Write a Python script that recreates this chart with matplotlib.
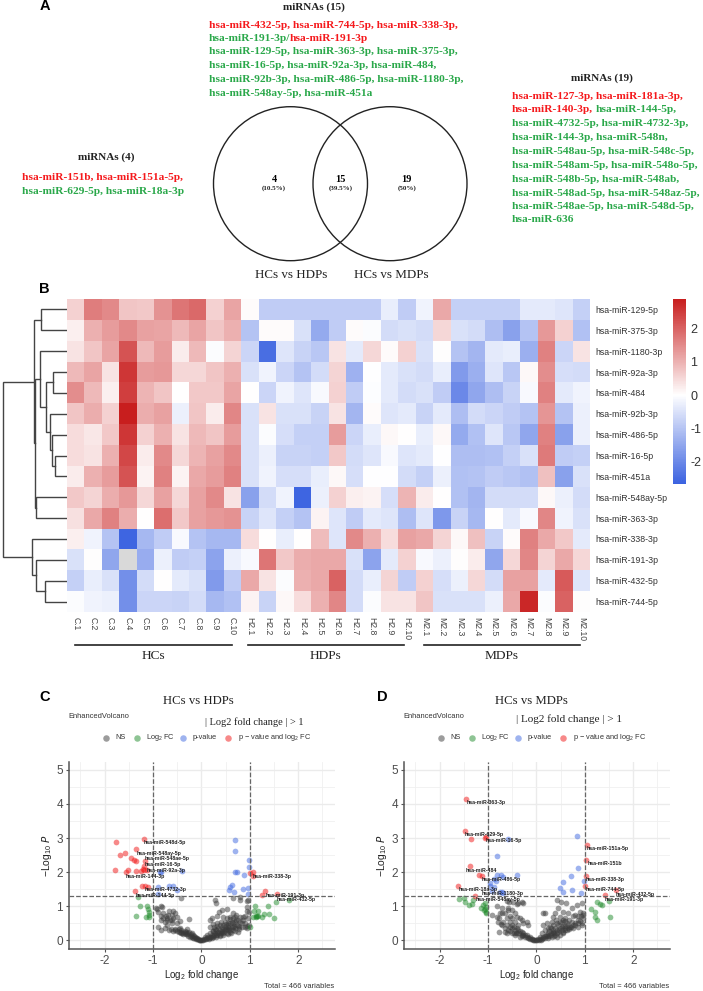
import numpy as np
import matplotlib
matplotlib.use("Agg")
import matplotlib.pyplot as plt
from matplotlib.colors import LinearSegmentedColormap, Normalize
from matplotlib.patches import Circle

plt.rcParams['font.family'] = ['Liberation Sans', 'DejaVu Sans']
plt.rcParams['mathtext.default'] = 'regular'

W, H = 703, 991
RED = '#f5191c'
GREEN = '#2aa84a'

# Panel A
block_15 = [
    [("hsa-miR-432-5p, hsa-miR-744-5p, hsa-miR-338-3p,", RED)],
    [("hsa-miR-191-3p/", GREEN), ("hsa-miR-191-3p", RED)],
    [("hsa-miR-129-5p, hsa-miR-363-3p, hsa-miR-375-3p,", GREEN)],
    [("hsa-miR-16-5p, hsa-miR-92a-3p, hsa-miR-484,", GREEN)],
    [("hsa-miR-92b-3p, hsa-miR-486-5p, hsa-miR-1180-3p,", GREEN)],
    [("hsa-miR-548ay-5p, hsa-miR-451a", GREEN)],
]
block_4 = [
    [("hsa-miR-151b, hsa-miR-151a-5p,", RED)],
    [("hsa-miR-629-5p, hsa-miR-18a-3p", GREEN)],
]
block_19 = [
    [("hsa-miR-127-3p, hsa-miR-181a-3p,", RED)],
    [("hsa-miR-140-3p,", RED), (" hsa-miR-144-5p,", GREEN)],
    [("hsa-miR-4732-5p, hsa-miR-4732-3p,", GREEN)],
    [("hsa-miR-144-3p, hsa-miR-548n,", GREEN)],
    [("hsa-miR-548au-5p, hsa-miR-548c-5p,", GREEN)],
    [("hsa-miR-548am-5p, hsa-miR-548o-5p,", GREEN)],
    [("hsa-miR-548b-5p, hsa-miR-548ab,", GREEN)],
    [("hsa-miR-548ad-5p, hsa-miR-548az-5p,", GREEN)],
    [("hsa-miR-548ae-5p, hsa-miR-548d-5p,", GREEN)],
    [("hsa-miR-636", GREEN)],
]
venn_counts = ["4", "15", "19"]
venn_pcts = ["(10.5%)", "(39.5%)", "(50%)"]

# Panel B
rows = ["hsa-miR-129-5p", "hsa-miR-375-3p", "hsa-miR-1180-3p", "hsa-miR-92a-3p", "hsa-miR-484",
        "hsa-miR-92b-3p", "hsa-miR-486-5p", "hsa-miR-16-5p", "hsa-miR-451a", "hsa-miR-548ay-5p",
        "hsa-miR-363-3p", "hsa-miR-338-3p", "hsa-miR-191-3p", "hsa-miR-432-5p", "hsa-miR-744-5p"]
cols = ["C.%d" % i for i in range(1, 11)] + ["H2.%d" % i for i in range(1, 11)] + ["M2.%d" % i for i in range(1, 11)]

hcs = [
    [.6, 1.65, 1.5, .75, .7, 1.4, 1.75, 1.9, .6, 1.15],
    [.2, 1.0, 1.25, 1.5, 1.2, 1.15, .9, 1.15, .75, 1.0],
    [.35, .75, 1.15, 2.2, .9, 1.25, .25, .9, -.05, .55],
    [.9, 1.15, .35, 2.55, 1.25, 1.3, .5, .5, .75, 1.0],
    [1.45, .9, .2, 2.45, .95, .75, 0, .7, .7, 1.15],
    [.75, 1.05, .6, 2.85, 1.05, 1.2, -.25, .75, .25, 1.55],
    [.45, .3, .7, 2.55, .6, 1.0, .35, .9, .75, 1.25],
    [.45, .35, 1.0, 2.35, .25, 1.5, .5, .95, 1.2, 1.5],
    [.25, 1.0, 1.25, 2.2, .15, 1.6, .15, 1.1, 1.25, 1.6],
    [.7, .55, 1.05, 1.3, .5, 1.2, .5, 1.2, 1.5, .35],
    [.4, 1.1, 1.6, 1.05, 0, 1.85, .7, 1.2, 1.3, 1.4],
    [.2, -.2, -1.0, -2.6, -1.2, -.85, -.1, -1.0, -1.2, -1.2],
    [-.5, .02, -1.5, np.nan, -1.4, -.25, -.85, -.8, -1.55, -.25],
    [-.8, -.3, -.5, -1.9, -.6, 0, -.35, -.5, -1.7, -.85],
    [-.05, -.2, -.25, -1.9, -.7, -.7, -.75, -.6, -1.2, -1.05],
]
hdps = [
    [.05, -.85, -.85, -.85, -.85, -.85, -.85, -.85, -.3, -.85],
    [-1.0, .05, .05, -.5, -1.45, -.85, .05, -.05, -.6, -.5],
    [-.7, -2.45, -.45, -.75, -.95, .35, -.35, .5, .05, .6],
    [-.5, -.2, -.7, -1.0, -.6, .55, -1.3, -.02, -.35, -.5],
    [0, -.7, -.2, -.45, -.1, .6, -.85, -.03, -.35, -.6],
    [-.5, .35, -.5, -.5, -.75, .35, -1.25, .05, -.45, -.35],
    [-.5, -.05, -.55, -.8, -.8, 1.25, -.7, -.3, .1, 0],
    [-.5, -.25, -.75, -.75, -.8, .7, -.6, -.45, -.1, -.45],
    [-.5, -.2, -.55, -.55, -.3, .1, -.55, -.02, -.01, -.6],
    [-1.6, -.6, -.2, -2.6, -.25, .6, .2, .15, -.55, .95],
    [-.75, -.45, -.8, -1.0, .15, -.45, -.85, -.35, -.45, -1.1],
    [.45, 0, -.3, 0, .85, -.45, 1.5, 1.0, .45, 1.2],
    [-.1, 1.75, .7, 1.05, 1.1, 1.1, -.5, -1.55, -.35, .6],
    [1.1, .35, -.05, 1.0, 1.1, 2.0, -.6, -.3, .55, -.85],
    [.15, -.75, .1, .45, 1.0, 1.55, -.6, -.05, .35, .35],
]
mdps = [
    [-.2, 1.1, -.8, -.8, -.8, -.8, -.35, -.35, -.45, -.8],
    [-.6, .5, -.5, -.6, -1.1, -1.6, -1.0, 1.3, .6, -1.05],
    [-.5, .02, -1.0, -1.25, -.35, -.3, -1.35, 1.6, -.7, .35],
    [-.6, -.3, -1.7, -1.35, -.45, -.95, .1, 1.45, -.55, -.6],
    [-.5, -.85, -2.0, -1.5, -1.1, -.75, -.1, 1.6, -.35, -.2],
    [-.75, -.35, -1.1, -.6, -.7, -.85, -1.0, 1.35, -1.0, -.25],
    [-.3, .1, -1.45, -1.05, -.45, -.95, -1.5, 1.6, -1.6, -.25],
    [-.35, -.02, -1.1, -1.1, -1.05, -.8, -.5, 1.7, -.85, -.8],
    [-.8, -.25, -1.05, -1.0, -.85, -.95, -1.05, .8, -1.6, -.5],
    [.25, 0, -1.05, -1.25, -.6, -.6, -.6, .1, -.25, -.6],
    [-.45, -1.75, -.75, -1.2, 0, -.35, -.1, 1.55, -.2, -.5],
    [1.1, .55, .1, .8, -.75, .05, 1.6, 1.1, .7, -.35],
    [-.1, -.25, .03, .25, -1.5, .5, 1.55, .55, 1.1, .5],
    [.6, -.55, -.25, .5, -.6, 1.2, 1.2, -.35, 2.1, -.45],
    [.75, -.5, -.5, -.5, -.25, 1.1, 2.75, -.05, 2.0, .03],
]
# merges of the row dendrogram: child, child, height. New nodes count on from 15.
merges = [(0, 1, 26), (3, 4, 14), (7, 8, 12.5), (6, 17, 15), (5, 18, 17), (16, 19, 21.3), (2, 20, 26.7),
          (9, 10, 31), (21, 22, 32.5), (15, 23, 33), (13, 14, 21.7), (12, 25, 31.3), (11, 26, 35.3),
          (24, 27, 64.5)]
groups = ["HCs", "HDPs", "MDPs"]

# Panel C
c_red = [(-1.76, 2.88), (-1.19, 2.97), (-1.34, 2.67), (-1.68, 2.49), (-1.58, 2.55), (-1.45, 2.40), (-1.40, 2.36),
         (-1.34, 2.32), (-1.17, 2.34), (-1.79, 2.05), (-1.55, 2.0), (-1.52, 2.06), (-1.35, 2.03), (-1.25, 2.04),
         (-1.2, 2.08), (-1.19, 2.06), (-1.13, 2.05), (-1.22, 1.58), (-1.16, 1.6), (-1.10, 1.57), (-1.37, 1.44),
         (-1.18, 2.19), (1.0, 1.97), (1.07, 1.99), (1.07, 1.89), (1.32, 1.45), (1.26, 1.34), (1.56, 1.37)]
c_blue = [(.70, 2.95), (.70, 2.61), (.99, 2.35), (.99, 2.16), (.70, 2.0), (.73, 2.0), (.89, 1.91), (.63, 1.61),
          (.59, 1.55), (.57, 1.48), (.68, 1.43), (.85, 1.51), (.96, 1.52), (.96, 1.37), (-.85, 2.0), (-.83, 2.0),
          (-.4, 2.03), (-.89, 1.57), (-.67, 1.59), (-.58, 1.58), (-.51, 1.48), (-.89, 1.36)]
c_green = [(-1.31, 1.26), (-1.26, 1.0), (-1.34, .70), (-1.12, 1.02), (-1.10, .92), (-1.09, .82), (-1.09, .74),
           (-1.14, .67), (-1.09, .67), (1.10, 1.01), (1.09, .87), (1.38, 1.01), (1.55, 1.11), (1.82, 1.17),
           (1.18, .87), (1.5, .65), (1.07, .68), (1.13, .69), (1.16, .71), (1.25, .69), (1.3, .77), (1.40, .77),
           (1.0, .4), (1.12, .7), (1.14, .72)]
c_ns = [(-.43, 1.23), (-.82, .99), (-.94, .94), (-.89, .84), (-.79, .79), (-.84, .71), (-.73, .71), (-.66, .86),
        (-.58, .87), (-.54, .79), (-.61, .74), (-.70, .65), (-.79, .65), (-.75, .55), (-.65, .60), (-.58, .65),
        (-.51, .67), (-.25, .62), (-.60, .52), (-.51, .52), (-.45, .58), (-.89, .40), (-.84, .30), (-.75, .35),
        (-.66, .30), (-.54, .30), (-.50, .28), (-.44, .25), (-.39, .22), (-.34, .28), (-.29, .32), (-.25, .25),
        (-.20, .20), (-.17, .16), (-.13, .11), (-.10, .06), (-.06, .03), (-.03, .01), (0, 0), (-.30, .19),
        (-.23, .11), (-.18, .06), (-.12, .03), (-.44, .35), (-.34, .2), (-.83, 1.0), (-.92, .91),
        (-.58, .27), (-.55, .33), (-.47, .25), (-.47, .32), (-.42, .20), (-.42, .30), (-.37, .24), (-.37, .18),
        (-.32, .18), (-.32, .23), (-.27, .14), (-.27, .2), (-.22, .14), (-.22, .18), (-.19, .1), (-.15, .08),
        (-.15, .13), (-.08, .04), (-.11, .08), (-.05, .02), (-.02, 0), (-.62, .33), (-.70, .45), (-.60, .60),
        (-.68, .75), (-.72, .60), (-.83, .60),
        (.29, 1.18), (.30, 1.1), (.37, .84), (.42, .89), (.52, .91), (.66, .79), (.72, .74), (.80, .67), (.94, 1.14),
        (.97, 1.19), (.94, .99), (.95, .87), (.99, .84), (.18, .60), (.21, .64), (.33, .71), (.45, .69), (.52, .65),
        (.59, .69), (.72, .59), (.87, .67), (.90, .50), (.97, .65), (.18, .40), (.25, .48), (.33, .52), (.40, .55),
        (.49, .55), (.56, .50), (.63, .55), (.73, .45), (.83, .50), (.90, .40), (.94, .35), (.08, .11), (.12, .16),
        (.18, .22), (.23, .28), (.28, .32), (.35, .35), (.42, .40), (.49, .40), (.56, .38), (.63, .40), (.70, .35),
        (.10, .03), (.14, .09), (.21, .16), (.28, .20), (.35, .25), (.42, .25), (.49, .30), (.56, .30), (.04, .01),
        (.18, .11), (.25, .11), (.32, .16), (.39, .16), (.45, .20), (.52, .22), (.59, .25), (.15, .05), (.22, .06),
        (.30, .10), (.38, .12), (.45, .15), (.55, .18), (.62, .22), (.70, .27), (.78, .32), (.84, .38), (.65, .30),
        (.75, .25), (.66, 1.23), (.80, 1.28), (.80, 1.18),
        (.02, 0), (.06, .03), (.08, .04), (.12, .06), (.16, .08), (.2, .1), (.24, .14), (.27, .15), (.3, .16),
        (.33, .2), (.36, .2), (.4, .22), (.43, .28), (.47, .25), (.5, .33), (.53, .32), (.58, .35), (.6, .3),
        (.66, .38), (.68, .42), (.75, .42), (.78, .4), (.45, .45), (.5, .48), (.55, .45), (.6, .5), (.66, .5),
        (.7, .55), (.75, .6), (.38, .45), (.33, .42), (.27, .38), (.3, .3), (.25, .28), (.38, .3), (.45, .33),
        (.65, .65), (.7, .68), (.6, .62), (.8, .55), (.85, .6), (.9, .7), (.95, .42), (.98, .45)]
c_labels = [("hsa-miR-548d-5p", -.75, 2.86), ("hsa-miR-548ay-5p", -.88, 2.54), ("hsa-miR-548ae-5p", -.70, 2.40),
            ("hsa-miR-16-5p", -.80, 2.22), ("hsa-miR-92a-3p", -.73, 2.06), ("hsa-miR-144-3p", -1.15, 1.87),
            ("hsa-miR-4732-3p", -.73, 1.48), ("hsa-miR-144-5p", -.96, 1.30), ("hsa-miR-338-3p", 1.47, 1.86),
            ("hsa-miR-191-3p", 1.73, 1.32), ("hsa-miR-432-5p", 1.96, 1.19)]

# Panel D
d_red = [(-1.445, 4.16), (-1.47, 3.21), (-1.34, 2.96), (-1.07, 2.99), (-1.05, 3.04), (-1.38, 2.17), (-1.18, 1.92),
         (-1.13, 1.90), (-1.61, 1.60), (-1.27, 1.31), (1.05, 2.80), (1.02, 2.36), (1.03, 1.90), (1.01, 1.60),
         (1.41, 1.34), (1.64, 1.47)]
d_blue = [(.84, 3.05), (-.59, 2.96), (-.81, 2.46), (-.41, 1.92), (.85, 2.11), (.72, 1.88), (.55, 1.70), (.99, 1.75),
          (.48, 1.52), (.55, 1.43), (.74, 1.47), (.92, 1.38), (-.82, 1.92), (-.73, 1.92), (-.68, 1.85), (-.84, 1.75),
          (-.96, 1.67), (-.96, 1.58), (-.87, 1.56), (-.91, 1.46), (-.72, 1.42), (-.75, 1.41), (-.68, 1.4), (-.88, 1.79)]
d_green = [(-1.60, 1.22), (-1.49, 1.24), (-1.47, 1.11), (-1.40, 1.04), (-1.32, 1.07), (-1.31, 1.17), (-1.14, .94),
           (-1.11, 1.04), (-1.06, 1.09), (-1.05, .97), (-1.05, .84), (-1.04, .79), (-1.09, .89), (-1.06, .91),
           (1.25, 1.12), (1.31, 1.06), (1.35, 1.03), (1.51, 1.14), (1.13, .91), (1.21, .84), (1.21, .67), (1.25, .60),
           (1.53, .67)]
d_ns = [(-.82, 1.01), (-.72, .94), (-.58, .89), (-.39, 1.07), (-.29, 1.11), (-.61, 1.15), (-.57, 1.12), (-.77, .65),
        (-.78, .25), (-.74, .48), (-.27, 1.09), (-.37, 1.09), (-.48, 1.13), (-.79, .55), (-.92, .74), (-.82, .69),
        (-.72, .79), (-.58, .94), (-.51, .89), (-.44, .79), (-.61, .65), (-.68, .55), (-.54, .55), (-.44, .55),
        (-.34, .65), (-.20, .55), (-.17, .45), (-.27, .50), (-.65, .35), (-.58, .30), (-.51, .35), (-.44, .30),
        (-.37, .30), (-.30, .25), (-.61, .45), (-.51, .45), (-.37, .45), (-.44, .16), (-.34, .11), (-.23, .11),
        (-.17, .06), (-.10, .03), (-.20, .16), (-.13, .11), (-.06, .01), (0, 0), (-.27, .2), (-.50, .22), (-.40, .22),
        (-.30, .16),
        (-.60, .2), (-.55, .28), (-.55, .38), (-.47, .22), (-.47, .38), (-.42, .2), (-.40, .35), (-.35, .2),
        (-.33, .27), (-.3, .12), (-.27, .15), (-.24, .17), (-.2, .09), (-.16, .08), (-.13, .05), (-.09, .04),
        (-.04, .01), (-.03, 0), (-.65, .25), (-.7, .45), (-.55, .72), (-.65, .8), (-.5, .65), (-.4, .68), (-.3, .6),
        (-.75, .8),
        (.42, 1.18), (.51, 1.13), (.61, 1.09), (.94, 1.09), (.83, 1.04), (.73, .94), (.45, .94), (.18, .81),
        (.14, .79), (.39, .79), (.56, .84), (.66, .79), (.90, .84), (.97, .79), (.97, .65), (.87, .60), (.35, .69),
        (.49, .69), (.59, .65), (.32, .55), (.42, .50), (.52, .55), (.63, .50), (.73, .55), (.94, .45), (.14, .45),
        (.21, .50), (.28, .40), (.39, .35), (.49, .35), (.59, .35), (.70, .40), (.80, .45), (.18, .30), (.26, .28),
        (.35, .25), (.45, .25), (.56, .25), (.63, .30), (.12, .2), (.21, .16), (.30, .16), (.39, .16), (.49, .16),
        (.08, .09), (.14, .06), (.23, .06), (.32, .09), (.42, .09), (.04, .03), (.10, .01), (.97, .75), (.94, .5),
        (.76, .36), (.68, .33), (.55, .20), (.60, .42), (.86, .38), (.17, .13), (.27, .12), (.36, .12),
        (.02, 0), (.06, .02), (.07, .04), (.11, .05), (.13, .1), (.17, .08), (.2, .12), (.25, .14), (.25, .2),
        (.3, .22), (.34, .2), (.37, .22), (.43, .2), (.43, .3), (.47, .3), (.52, .3), (.52, .4), (.56, .42), (.6, .3),
        (.66, .35), (.72, .4), (.75, .45), (.8, .5), (.85, .5), (.9, .58), (.55, .6), (.6, .58), (.68, .6), (.65, .45),
        (.48, .55), (.4, .6), (.45, .45), (.35, .45), (.3, .35), (.25, .35), (.75, .7), (.8, .75), (.85, .72),
        (.92, .7), (.35, .3)]
d_labels = [("hsa-miR-363-3p", -1.04, 4.04), ("hsa-miR-629-5p", -1.07, 3.09), ("hsa-miR-16-5p", -.67, 2.94),
            ("hsa-miR-484", -1.14, 2.05), ("hsa-miR-486-5p", -.72, 1.77), ("hsa-miR-18a-3p", -1.21, 1.49),
            ("hsa-miR-1180-3p", -.69, 1.36), ("hsa-miR-548ay-5p", -.80, 1.19), ("hsa-miR-151a-5p", 1.48, 2.68),
            ("hsa-miR-151b", 1.42, 2.24), ("hsa-miR-338-3p", 1.43, 1.79), ("hsa-miR-744-5p", 1.42, 1.49),
            ("hsa-miR-432-5p", 2.04, 1.35), ("hsa-miR-191-3p", 1.82, 1.21)]
legend_names = ["NS", r"Log$_2$ FC", "p-value", r"p $-$ value and log$_2$ FC"]


def px_axes(x0, y0, x1, y1):
    return fig.add_axes([x0 / W, 1 - y1 / H, (x1 - x0) / W, (y1 - y0) / H])


fig = plt.figure(figsize=(W / 100, H / 100), dpi=100)
page = px_axes(0, 0, W, H)
page.set_xlim(0, W)
page.set_ylim(H, 0)
page.axis('off')
page.set_zorder(5)
page.patch.set_alpha(0)
renderer = fig.canvas.get_renderer()


def serif(x, y, s, size=10, ha='center', weight='normal', color='#222222'):
    page.text(x, y, s, family='Liberation Serif', fontsize=size, ha=ha, va='center', weight=weight, color=color)


def mirna_block(x, ys, lines, size=8.2):
    for y, parts in zip(ys, lines):
        cx = x
        for i, (s, c) in enumerate(parts):
            if s.startswith(" "):
                cx += 2.5
            t = page.text(cx, y, s.strip(), family='Liberation Serif', fontsize=size, weight='bold', color=c,
                          ha='left', va='center')
            cx = page.transData.inverted().transform(t.get_window_extent(renderer))[1, 0]


for s, x, y in [("A", 45, 6), ("B", 44.5, 289), ("C", 45, 697), ("D", 382, 697)]:
    page.text(x, y, s, fontsize=10.5, weight='bold', color='black', ha='center', va='center')

serif(314, 7, "miRNAs (15)", 8, weight='bold')
serif(106, 157, "miRNAs (4)", 8, weight='bold')
serif(602, 78, "miRNAs (19)", 8, weight='bold')
mirna_block(208.7, [25, 38.5, 52, 66, 80, 93.5], block_15)
mirna_block(22, [178, 192], block_4)
mirna_block(512, [96.3, 110, 124, 137.7, 151.7, 165.7, 179, 193, 206.7, 220], block_19)

for cx, r in [(290.5, 77), (390, 77)]:
    page.add_patch(Circle((cx, 183.7), r, fill=False, ec='#222222', lw=1))
for x, n, p in zip([274, 340.7, 406.7], venn_counts, venn_pcts):
    serif(x, 180, n, 7.5, weight='bold', color='black')
    serif(x, 187.8, p, 5, weight='bold')
serif(290.7, 274.7, "HCs vs HDPs", 9.4)
serif(391, 274.7, "HCs vs MDPs", 9.4)

# heatmap
values = np.hstack([hcs, hdps, mdps])
vmin, vmax = -2.66, 2.87
cmap = LinearSegmentedColormap.from_list(
    'bwr2', [(0, '#3b62e0'), (-vmin / (vmax - vmin), '#ffffff'), (1, '#c81e1e')])
cmap.set_bad('#d9d9d9')
norm = Normalize(vmin, vmax)

ax = px_axes(67, 299, 590, 612)
mesh = ax.pcolormesh(np.ma.masked_invalid(values), cmap=cmap, norm=norm, edgecolors='none')
ax.set_ylim(len(rows), 0)
ax.set_xlim(0, len(cols))
ax.set_xticks(np.arange(len(cols)) + .5, cols, rotation=270, fontsize=6.2, color='#444444')
ax.yaxis.tick_right()
ax.set_yticks(np.arange(len(rows)) + .5, rows, fontsize=6.3, color='#333333')
ax.tick_params(length=0, pad=4)
ax.tick_params(axis='x', pad=3.5)
for s in ax.spines.values():
    s.set_visible(False)

cax = px_axes(673, 299, 686, 484)
cb = fig.colorbar(mesh, cax=cax)
cb.set_ticks([-2, -1, 0, 1, 2], labels=['-2', '-1', '0', '1', '2'])
cb.ax.tick_params(length=0, labelsize=9, pad=3, labelcolor='#333333')
cb.outline.set_visible(False)

# dendrogram
dax = px_axes(0, 299, 67, 612)
dax.set_xlim(67, 0)
dax.set_ylim(len(rows), 0)
dax.axis('off')
pos = {i: (i + .5, 0) for i in range(len(rows))}
for k, (a, b, h) in enumerate(merges):
    ya, ha_ = pos[a]
    yb, hb = pos[b]
    dax.plot([ha_, h, h, hb], [ya, ya, yb, yb], color='#444444', lw=1, solid_joinstyle='miter')
    pos[len(rows) + k] = ((ya + yb) / 2, h)

for g, x0, x1 in zip(groups, [75, 247.7, 424], [231.7, 404, 580]):
    page.plot([x0, x1], [645.3, 645.3], color='#222222', lw=1.2)
    serif((x0 + x1) / 2, 656, g, 9.6)


def volcano(x0, red, blue, green, ns, labels, title, title_x, sub_x, sub_y, sub_size):
    ax = px_axes(x0, 761.7, x0 + 266.3, 949.3)
    ax.set_xlim(-2.74, 2.76)
    ax.set_ylim(-.264, 5.24)
    ax.set_xticks([-2, -1, 0, 1, 2], ['-2', '-1', '0', '1', '2'])
    ax.set_yticks(range(6))
    ax.set_xticks(np.arange(-2.5, 3, 1), minor=True)
    ax.set_yticks(np.arange(.5, 5, 1), minor=True)
    ax.grid(which='major', color='#ebebeb', lw=1)
    ax.grid(which='minor', color='#f0f0f0', lw=.6)
    ax.set_axisbelow(True)
    ax.tick_params(which='minor', length=0)
    ax.tick_params(which='major', labelsize=8.5, labelcolor='#4d4d4d', color='#555555', length=2.5, width=.8, pad=1.5)
    for s in ['top', 'right']:
        ax.spines[s].set_visible(False)
    for s in ['left', 'bottom']:
        ax.spines[s].set_color('#555555')
        ax.spines[s].set_linewidth(1.1)
    for pts, c in [(ns, '#3a3a3a'), (green, '#1f8a2a'), (blue, '#3f68e0'), (red, '#f01515')]:
        a = np.array(pts)
        ax.scatter(a[:, 0], a[:, 1], s=17, c=c, alpha=.5, linewidths=0, zorder=3)
    for v in [-1, 1]:
        ax.axvline(v, color='#666666', ls='--', lw=.9, zorder=4)
    ax.axhline(1.3, color='#666666', ls='--', lw=.9, zorder=4)
    for s, x, y in labels:
        ax.text(x, y, s, fontsize=3.8, weight='bold', color='#222222', ha='center', va='center', zorder=6)
    ax.set_xlabel(r"Log$_2$ fold change", fontsize=7, color='#222222', labelpad=1)
    ax.set_ylabel(r"$-$Log$_{10}$ $\mathit{P}$", fontsize=7.5, color='#222222', labelpad=2)
    serif(title_x, 701, title, 9.2)
    serif(sub_x, sub_y, "| Log2 fold change | > 1", sub_size)
    page.text(x0 - .5, 717, "EnhancedVolcano", fontsize=5.4, color='#333333', ha='left', va='center')
    page.text(x0 + 265.5, 986.5, "Total = 466 variables", fontsize=5.4, color='#333333', ha='right', va='center')
    # legend
    off = x0 - 68.7
    for (mx, tx), s, c in zip([(106, 115.5), (136.7, 146), (183.3, 193), (227.7, 237.7)], legend_names,
                              ['#3a3a3a', '#1f8a2a', '#3f68e0', '#f01515']):
        page.scatter([mx + off], [738], s=22, c=c, alpha=.5, linewidths=0)
        page.text(tx + off, 737.5, s, fontsize=5.3, color='#333333', ha='left', va='center')


volcano(68.7, c_red, c_blue, c_green, c_ns, c_labels, "HCs vs HDPs", 198, 254.5, 721.7, 7.5)
volcano(403.7, d_red, d_blue, d_green, d_ns, d_labels, "HCs vs MDPs", 531, 569, 718.7, 8)
page.set_xlim(0, W)
page.set_ylim(H, 0)

fig.savefig("out.png", dpi=100)
